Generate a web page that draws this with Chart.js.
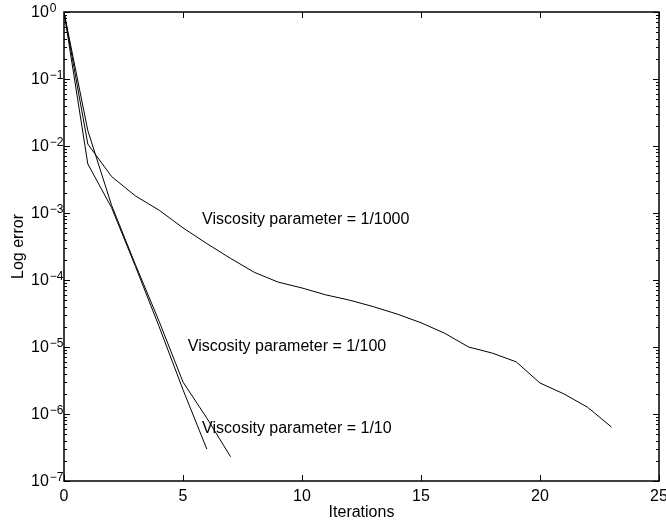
<!DOCTYPE html>
<html>
<head>
<meta charset="utf-8">
<script src="https://cdn.jsdelivr.net/npm/chart.js@4"></script>
<style>
  body { margin: 0; background: #fff; }
  #wrap { width: 666px; height: 525px; }
</style>
</head>
<body>
<div id="wrap"><canvas id="myChart" width="666" height="525"></canvas></div>
<script>
const ctx = document.getElementById('myChart').getContext('2d');

// iterations and log error for each viscosity parameter
const iters1000 = [0, 1, 2, 3, 4, 5, 6, 7, 8, 9, 10, 11, 12, 13, 14, 15, 16, 17, 18, 19, 20, 21, 22, 23];
const err1000 = [1, 0.0107, 0.0035, 0.0018, 0.0011, 6.0e-4, 3.5e-4, 2.1e-4, 1.3e-4, 9.3e-5, 7.6e-5, 6.0e-5,
  5.0e-5, 4.0e-5, 3.1e-5, 2.3e-5, 1.6e-5, 1.0e-5, 8.1e-6, 6.0e-6, 2.9e-6, 2.0e-6, 1.26e-6, 6.4e-7];
const iters100 = [0, 1, 2, 3, 4, 5, 6, 7];
const err100 = [1, 0.017, 1.3e-3, 1.7e-4, 2.4e-5, 3.0e-6, 8.7e-7, 2.3e-7];
const iters10 = [0, 1, 2, 3, 4, 5, 6];
const err10 = [1, 0.0054, 1.2e-3, 1.6e-4, 2.0e-5, 2.3e-6, 3.0e-7];

const xTicks = [0, 5, 10, 15, 20, 25];
const yExps = [0, -1, -2, -3, -4, -5, -6, -7];

const noteTexts = ['Viscosity parameter = 1/1000', 'Viscosity parameter = 1/100', 'Viscosity parameter = 1/10'];
const noteX = [5.8, 5.2, 5.8];
const noteY = [8e-4, 1e-5, 6e-7];

const FONT = '"Liberation Sans", Arial, sans-serif';
Chart.defaults.font.family = FONT;
Chart.defaults.color = '#000';

const pts = (xs, ys) => xs.map((x, i) => ({ x: x, y: ys[i] }));
const line = (data) => ({
  data: data,
  borderColor: '#000',
  borderWidth: 1,
  pointRadius: 0,
  fill: false,
  tension: 0,
});

// box, inward ticks, superscript y labels and text notes
const matlabAxes = {
  id: 'matlabAxes',
  afterDraw(chart) {
    const { ctx, chartArea: a, scales: { x, y } } = chart;
    ctx.save();
    ctx.strokeStyle = '#000';
    ctx.lineWidth = 1;
    ctx.beginPath();
    xTicks.forEach(v => {
      const px = Math.round(x.getPixelForValue(v)) + 0.5;
      ctx.moveTo(px, a.bottom); ctx.lineTo(px, a.bottom - 6);
      ctx.moveTo(px, a.top); ctx.lineTo(px, a.top + 6);
    });
    yExps.forEach(e => {
      for (let m = 1; m < 10; m++) {
        const v = m * Math.pow(10, e);
        if (v > 1 || (m > 1 && e === 0)) continue;
        const py = Math.round(y.getPixelForValue(v)) + 0.5;
        const len = m === 1 ? 6 : 3;
        ctx.moveTo(a.left, py); ctx.lineTo(a.left + len, py);
        ctx.moveTo(a.right, py); ctx.lineTo(a.right - len, py);
      }
    });
    ctx.stroke();

    ctx.lineWidth = 1.5;
    ctx.strokeRect(a.left, a.top, a.right - a.left, a.bottom - a.top);

    ctx.fillStyle = '#000';
    yExps.forEach(e => {
      const py = y.getPixelForValue(Math.pow(10, e));
      ctx.font = '16px ' + FONT;
      ctx.textAlign = 'left';
      ctx.textBaseline = 'middle';
      ctx.fillText('10', 31, py + 1);
      const w = ctx.measureText('10').width;
      ctx.font = '12px ' + FONT;
      ctx.textBaseline = 'alphabetic';
      ctx.fillText(e === 0 ? '0' : '\u2212' + (-e), 31 + w + 1, py);
    });

    ctx.font = '16px ' + FONT;
    ctx.textBaseline = 'middle';
    noteTexts.forEach((t, i) => {
      ctx.fillText(t, x.getPixelForValue(noteX[i]), y.getPixelForValue(noteY[i]));
    });
    ctx.restore();
  },
};

new Chart(ctx, {
  type: 'line',
  data: {
    datasets: [
      line(pts(iters1000, err1000)),
      line(pts(iters100, err100)),
      line(pts(iters10, err10)),
    ],
  },
  options: {
    responsive: false,
    animation: false,
    layout: { padding: { top: 12, right: 7, left: 0, bottom: 0 } },
    plugins: { legend: { display: false }, tooltip: { enabled: false } },
    scales: {
      x: {
        type: 'linear',
        min: 0,
        max: 25,
        afterBuildTicks: s => { s.ticks = xTicks.map(v => ({ value: v })); },
        ticks: { font: { size: 16 }, padding: -2, maxRotation: 0 },
        grid: { display: false },
        border: { display: false },
        title: { display: true, text: 'Iterations', font: { size: 16 }, padding: { top: 0, bottom: 3 } },
        afterFit: s => { s.height = 44; s.paddingLeft = 0; s.paddingRight = 0; },
      },
      y: {
        type: 'logarithmic',
        min: 1e-7,
        max: 1,
        ticks: { display: false },
        grid: { display: false },
        border: { display: false },
        title: { display: true, text: 'Log error', font: { size: 16 }, padding: { top: 9, bottom: 0 } },
        afterFit: s => { s.width = 64; s.paddingTop = 0; s.paddingBottom = 0; },
      },
    },
  },
  plugins: [matlabAxes],
});
</script>
</body>
</html>
